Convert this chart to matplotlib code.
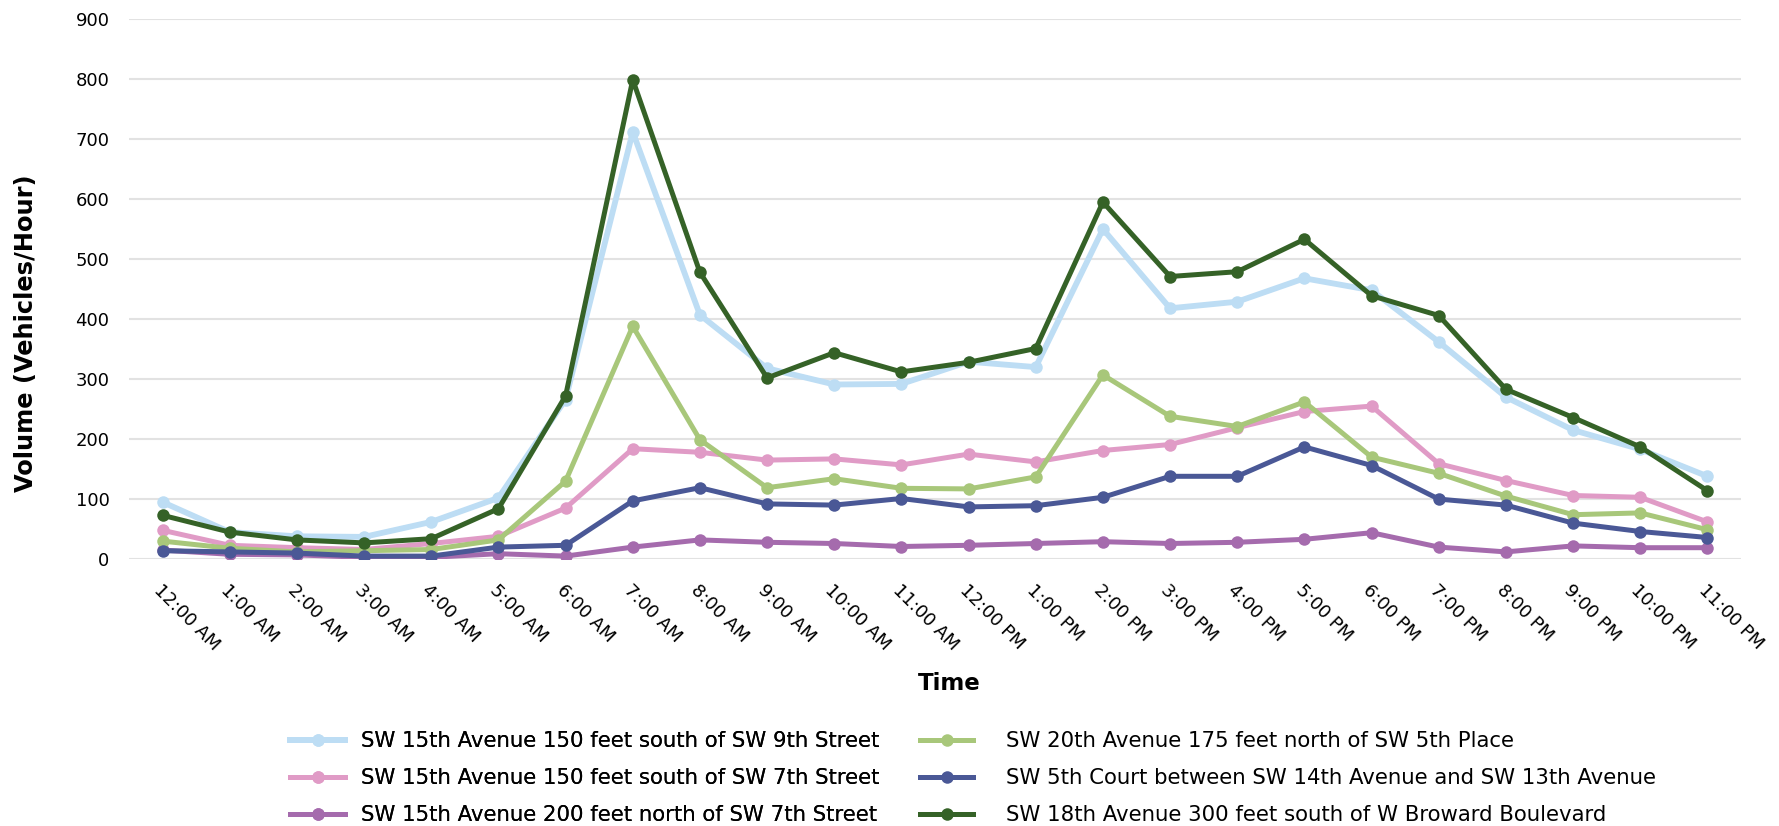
import matplotlib
matplotlib.use("Agg")
import matplotlib.pyplot as plt

plt.rcParams['font.family'] = ['DejaVu Sans']

hours = ["12:00 AM", "1:00 AM", "2:00 AM", "3:00 AM", "4:00 AM", "5:00 AM",
         "6:00 AM", "7:00 AM", "8:00 AM", "9:00 AM", "10:00 AM", "11:00 AM",
         "12:00 PM", "1:00 PM", "2:00 PM", "3:00 PM", "4:00 PM", "5:00 PM",
         "6:00 PM", "7:00 PM", "8:00 PM", "9:00 PM", "10:00 PM", "11:00 PM"]

sw15_150s_9th = [94, 44, 37, 36, 61, 101, 265, 711, 406, 317, 290, 291,
                 328, 319, 549, 417, 428, 467, 447, 361, 269, 214, 182, 137]
sw15_150s_7th = [47, 22, 18, 15, 25, 37, 84, 183, 177, 164, 166, 156,
                 174, 161, 180, 190, 218, 245, 254, 158, 130, 105, 102, 61]
sw15_200n_7th = [14, 7, 6, 2, 2, 8, 4, 19, 31, 27, 25, 20,
                 22, 25, 28, 25, 27, 32, 43, 19, 11, 21, 18, 18]
sw20_175n_5th = [29, 17, 11, 13, 15, 31, 129, 387, 198, 118, 133, 117,
                 116, 136, 306, 237, 220, 261, 169, 142, 104, 73, 76, 48]
sw5ct_14_13 = [13, 11, 9, 4, 4, 19, 22, 96, 118, 91, 89, 100,
               86, 88, 102, 137, 137, 186, 155, 99, 89, 59, 45, 35]
sw18_300s_broward = [72, 44, 31, 26, 33, 83, 271, 798, 477, 301, 343, 311,
                     327, 350, 594, 470, 478, 532, 438, 405, 282, 235, 186, 113]

series_names = [
    "SW 15th Avenue 150 feet south of SW 9th Street",
    "SW 15th Avenue 150 feet south of SW 7th Street",
    "SW 15th Avenue 200 feet north of SW 7th Street",
    "SW 20th Avenue 175 feet north of SW 5th Place",
    "SW 5th Court between SW 14th Avenue and SW 13th Avenue",
    "SW 18th Avenue 300 feet south of W Broward Boulevard",
]
series_values = [sw15_150s_9th, sw15_150s_7th, sw15_200n_7th,
                 sw20_175n_5th, sw5ct_14_13, sw18_300s_broward]
colors = ["#BDDDF4", "#E09BC6", "#A56BAD", "#A8C77A", "#4A5896", "#356227"]
widths = [4.2, 3.6, 3.6, 3.6, 3.6, 3.6]

fig = plt.figure(figsize=(17.79, 8.26), dpi=100)
ax = fig.add_axes([129 / 1779, 1 - 558.5 / 826, (1741 - 129) / 1779, (558.5 - 18.5) / 826])

x = list(range(len(hours)))
handles = []
for name, vals, c, lw in zip(series_names, series_values, colors, widths):
    h, = ax.plot(x, vals, color=c, linewidth=lw, marker='o', markersize=9,
                 markeredgewidth=0, label=name, solid_joinstyle='round')
    handles.append(h)

ax.set_xlim(-0.5, len(hours) - 0.5)
ax.set_ylim(0, 900)
ax.set_yticks(range(0, 901, 100))
ax.set_xticks(x)
ax.set_xticklabels(hours, rotation=-45, ha='left', va='top', rotation_mode='anchor',
                   fontsize=13)
ax.tick_params(axis='x', length=0, pad=16)
ax.tick_params(axis='y', length=0, pad=14, labelsize=13)
for s in ax.spines.values():
    s.set_visible(False)
ax.grid(axis='y', color='#E2E2E2', linewidth=1.5)
ax.set_axisbelow(True)

fig.text(26 / 1779, 1 - 333 / 826, "Volume (Vehicles/Hour)", rotation=90,
         ha='center', va='center', fontsize=17.4, fontweight='bold')
fig.text(949 / 1779, 1 - 684 / 826, "Time", ha='center', va='center',
         fontsize=16.5, fontweight='bold')

legend_kw = dict(loc='upper left', frameon=False, fontsize=15.3, labelspacing=0.8,
                 borderaxespad=0, borderpad=0)
leg_left = fig.legend(handles=handles[:3], bbox_to_anchor=(290 / 1779, 1 - 731 / 826),
                      handlelength=2.6, handletextpad=0.72, **legend_kw)
fig.add_artist(leg_left)
fig.legend(handles=handles[3:], bbox_to_anchor=(920 / 1779, 1 - 731 / 826),
           handlelength=2.5, handletextpad=1.55, **legend_kw)

fig.savefig("out.png", dpi=100)
